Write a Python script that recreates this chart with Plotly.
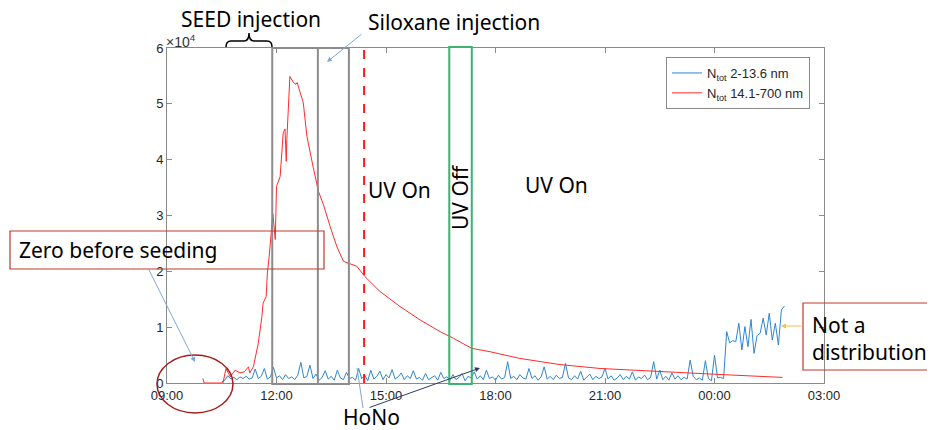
import plotly.graph_objects as go
import pandas as pd

# page body has an 8px margin: figure is drawn at (8, 8)
OFF = 8
W, H = 935 - OFF, 430 - OFF
L, R, T, B = 167, 824, 48, 383   # plot area in screen pixels


def px(x):
    return (x - L) / (R - L)


def py(y):
    return (B - y) / (B - T)


def ts(hm):
    h, m = map(int, hm.split(':'))
    day = '2020-01-02' if h < 9 else '2020-01-01'
    return f'{day} {hm}'


# ---------------- data ----------------
red_times = ["09:59", "10:01", "10:32", "10:37", "10:44", "10:52", "11:00", "11:07",
             "11:14", "11:16", "11:22", "11:27", "11:30", "11:36", "11:38", "11:43",
             "11:45", "11:48", "11:54", "11:58", "12:00", "12:06", "12:11", "12:14",
             "12:16", "12:17", "12:22", "12:28", "12:32", "12:34", "12:39", "12:44",
             "12:50", "12:55", "13:00", "13:09", "13:17", "13:28", "13:39", "13:50",
             "14:01", "14:12", "14:25", "14:50", "15:23", "15:56", "16:29", "16:51",
             "17:21", "17:51", "18:40", "19:46", "20:52", "22:14", "00:04", "01:52"]
red_vals = [800, 0, 0, 2600, 1100, 2300, 1800, 2000,
            2900, 1800, 2900, 5900, 7100, 11900, 14300, 15500,
            19700, 22700, 30300, 25700, 35200, 37000, 44800, 45500,
            39700, 43600, 54900, 53800, 53500, 53800, 52000, 50200,
            44200, 41800, 38800, 34300, 32000, 28100, 24500, 21800,
            21400, 20900, 19100, 16400, 13700, 11300, 9200, 8000,
            6200, 5600, 4400, 3300, 2600, 2100, 1550, 1000]

blue_start = "10:30"
blue_vals = [200, 500, 1300, 700, 1000, 600, 1100, 800, 1200, 700,
             900, 2500, 800, 1200, 2600, 700, 1100, 2800, 900, 1300,
             600, 1500, 800, 1100, 600, 1400, 3700, 900, 1200, 3200,
             800, 1600, 500, 1000, 2200, 700, 1200, 500, 2300, 900,
             600, 1900, 800, 1000, 500, 2600, 800, 1400, 400, 2300,
             700, 1200, 2100, 600, 1500, 900, 2400, 700, 1100, 1800,
             600, 1300, 800, 2200, 700, 1000, 500, 1700, 600, 900,
             1300, 500, 1900, 800, 1100, 500, 1500, 600, 1000, 1700,
             400, 1200, 900, 2000, 700, 1300, 600, 2300, 800, 1100,
             500, 1400, 700, 1000, 3800, 800, 1200, 600, 1500, 900,
             700, 2600, 800, 1300, 500, 1100, 2900, 700, 1200, 600,
             1400, 800, 1000, 3500, 900, 600, 1300, 700, 2100, 500,
             1000, 1600, 600, 1200, 800, 1100, 2600, 700, 1300, 500,
             900, 1500, 600, 1200, 700, 2000, 500, 1100, 800, 1400,
             600, 1000, 3800, 700, 2300, 600, 1200, 500, 1800, 700,
             1300, 600, 1000, 700, 4100, 1200, 600, 900, 500, 4000,
             800, 400, 5000, 900, 1000, 800,
             9200, 7200, 7600, 7400, 10700, 5900, 10100, 6500, 11400, 5300,
             8500, 8900, 11600, 8600, 12500, 7700, 10700, 6800, 13100, 13800]

y_ticks = [0, 10000, 20000, 30000, 40000, 50000, 60000]
y_labels = ["0", "1", "2", "3", "4", "5", "6"]
x_ticks = ["09:00", "12:00", "15:00", "18:00", "21:00", "00:00", "03:00"]

seed_start = "11:53"
siloxane = "13:08"
box_end = "13:59"
uv_on = "14:24"
uv_off_start = "16:44"
uv_off_end = "17:21"

# ---------------- figure ----------------
blue_x = pd.date_range(ts(blue_start), periods=len(blue_vals), freq="5min")
red_x = [ts(t) for t in red_times]

fig = go.Figure()
fig.add_trace(go.Scatter(x=blue_x, y=blue_vals, mode="lines",
                         line=dict(color="#2f86cf", width=1),
                         name="N<sub>tot</sub> 2-13.6 nm"))
fig.add_trace(go.Scatter(x=red_x, y=red_vals, mode="lines",
                         line=dict(color="#ff2a2a", width=1),
                         name="N<sub>tot</sub> 14.1-700 nm"))

axis_col = "#8a8a8a"
tick_font = dict(family="Liberation Sans, Arial", size=13, color="#262626")
fig.update_xaxes(type="date", range=[ts("09:00"), ts("03:00")],
                 tickvals=[ts(t) for t in x_ticks], ticktext=x_ticks,
                 ticks="inside", ticklen=5, tickcolor=axis_col, mirror="ticks",
                 showline=True, linecolor=axis_col, linewidth=1,
                 showgrid=False, zeroline=False, tickfont=tick_font)
fig.update_yaxes(range=[0, 60000], tickvals=y_ticks, ticktext=y_labels,
                 ticks="inside", ticklen=5, tickcolor=axis_col, mirror="ticks",
                 showline=True, linecolor=axis_col, linewidth=1,
                 showgrid=False, zeroline=False, tickfont=tick_font)

shapes = []
# gray injection boxes
shapes.append(dict(type="rect", xref="x", yref="paper", x0=ts(seed_start), x1=ts(box_end),
                   y0=-0.003, y1=1, line=dict(color="#8c8c8c", width=2)))
shapes.append(dict(type="line", xref="x", yref="paper", x0=ts(siloxane), x1=ts(siloxane),
                   y0=-0.003, y1=1, line=dict(color="#8c8c8c", width=2)))
# UV on dashed red line
shapes.append(dict(type="line", xref="x", yref="paper", x0=ts(uv_on), x1=ts(uv_on),
                   y0=0, y1=1, line=dict(color="#ff1a1a", width=2, dash="dash")))
# UV off green box
shapes.append(dict(type="rect", xref="x", yref="paper", x0=ts(uv_off_start), x1=ts(uv_off_end),
                   y0=-0.003, y1=1.003, line=dict(color="#3cb371", width=2)))
# brace over SEED injection
brace = (f"M {px(226)},{py(47)} Q {px(226)},{py(41)} {px(231)},{py(41)} "
         f"L {px(244)},{py(41)} Q {px(249)},{py(41)} {px(249)},{py(33)} "
         f"Q {px(249)},{py(41)} {px(254)},{py(41)} L {px(267)},{py(41)} "
         f"Q {px(272)},{py(41)} {px(272)},{py(47)}")
shapes.append(dict(type="path", xref="paper", yref="paper", path=brace,
                   line=dict(color="black", width=1.5)))
# Zero before seeding box
shapes.append(dict(type="rect", xref="paper", yref="paper", x0=px(10), x1=px(324),
                   y0=py(269), y1=py(231), line=dict(color="#c0392b", width=1.2)))
# ellipse
shapes.append(dict(type="circle", xref="paper", yref="paper", x0=px(157), x1=px(233),
                   y0=py(413), y1=py(355), line=dict(color="#a51c1c", width=1.5)))
# Not a distribution box
shapes.append(dict(type="rect", xref="paper", yref="paper", x0=px(803), x1=px(950),
                   y0=py(370), y1=py(303), line=dict(color="#c0392b", width=1.2)))
# HoNo thin line
shapes.append(dict(type="line", xref="paper", yref="paper", x0=px(363), y0=py(408),
                   x1=px(357), y1=py(368), line=dict(color="#7fa7d6", width=1)))

big = dict(family="Noto Sans", size=21, color="black")
ann = []


def text(t, x, y, xanchor="center", angle=0, font=big):
    ann.append(dict(text=t, xref="paper", yref="paper", x=px(x), y=py(y),
                    xanchor=xanchor, yanchor="middle", showarrow=False,
                    borderpad=0, textangle=angle, font=font))


def arrow(hx, hy, tx, ty, color):
    ann.append(dict(text="", xref="paper", yref="paper", x=px(hx), y=py(hy),
                    ax=tx - hx, ay=ty - hy, showarrow=True, arrowhead=2,
                    arrowsize=1, arrowwidth=1, arrowcolor=color))


text("SEED injection", 251, 19)
text("Siloxane injection", 454, 22)
text("UV On", 399, 190)
text("UV Off", 460, 197, angle=-90)
text("UV On", 556, 185)
text("Zero before seeding", 18, 250, xanchor="left")
text("Not a", 811, 325, xanchor="left")
text("distribution", 811, 352, xanchor="left")
text("HoNo", 371, 417)
text("×10<sup>4</sup>", 165, 41, xanchor="left",
     font=dict(family="Liberation Sans, Arial", size=14, color="#333333"))

arrow(327, 62, 363, 33, "#7fa7d6")
arrow(195, 362, 148, 268, "#7fa7d6")
arrow(781, 326, 803, 326, "#f5c242")
arrow(480, 368, 368, 408, "#2e3b6b")

fig.update_layout(
    width=W, height=H,
    margin=dict(l=L - OFF, r=W - (R - OFF), t=T - OFF, b=H - (B - OFF), pad=0),
    plot_bgcolor="white", paper_bgcolor="white",
    shapes=shapes, annotations=ann,
    showlegend=True,
    legend=dict(x=px(666), y=py(57), xanchor="left", yanchor="top",
                bordercolor=axis_col, borderwidth=1, bgcolor="white",
                tracegroupgap=4,
                font=dict(family="Liberation Sans, Arial", size=13, color="#262626")),
)

fig.write_html("out.html")
